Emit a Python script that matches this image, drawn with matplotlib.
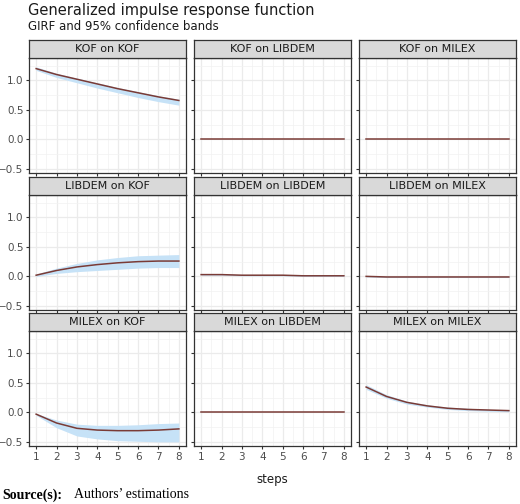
import matplotlib
matplotlib.use("Agg")
import matplotlib.pyplot as plt
import numpy as np

steps = [1, 2, 3, 4, 5, 6, 7, 8]
titles = ["KOF on KOF", "KOF on LIBDEM", "KOF on MILEX",
          "LIBDEM on KOF", "LIBDEM on LIBDEM", "LIBDEM on MILEX",
          "MILEX on KOF", "MILEX on LIBDEM", "MILEX on MILEX"]
irf = [
    [1.20, 1.10, 1.02, 0.94, 0.86, 0.79, 0.72, 0.66],
    [0, 0, 0, 0, 0, 0, 0, 0],
    [0, 0, 0, 0, 0, 0, 0, 0],
    [0.02, 0.10, 0.16, 0.20, 0.23, 0.25, 0.26, 0.26],
    [0.03, 0.03, 0.02, 0.02, 0.02, 0.01, 0.01, 0.01],
    [0.00, -0.01, -0.01, -0.01, -0.01, -0.01, -0.01, -0.01],
    [-0.03, -0.18, -0.27, -0.30, -0.31, -0.31, -0.30, -0.28],
    [0, 0, 0, 0, 0, 0, 0, 0],
    [0.43, 0.27, 0.17, 0.11, 0.07, 0.05, 0.04, 0.03],
]
lower = [
    [1.17, 1.05, 0.96, 0.87, 0.79, 0.71, 0.64, 0.58],
    [0, 0, 0, 0, 0, 0, 0, 0],
    [0, 0, 0, 0, 0, 0, 0, 0],
    [0.00, 0.05, 0.08, 0.10, 0.12, 0.14, 0.15, 0.15],
    [0.02, 0.02, 0.01, 0.01, 0.01, 0.00, 0.00, 0.00],
    [-0.01, -0.02, -0.02, -0.02, -0.02, -0.02, -0.02, -0.02],
    [-0.05, -0.26, -0.40, -0.45, -0.48, -0.49, -0.50, -0.50],
    [0, 0, 0, 0, 0, 0, 0, 0],
    [0.39, 0.24, 0.14, 0.09, 0.05, 0.03, 0.02, 0.01],
]
upper = [
    [1.23, 1.12, 1.04, 0.96, 0.88, 0.81, 0.74, 0.68],
    [0, 0, 0, 0, 0, 0, 0, 0],
    [0, 0, 0, 0, 0, 0, 0, 0],
    [0.04, 0.14, 0.22, 0.28, 0.32, 0.35, 0.36, 0.37],
    [0.04, 0.04, 0.03, 0.03, 0.03, 0.02, 0.02, 0.02],
    [0.01, 0.00, 0.00, 0.00, 0.00, 0.00, 0.00, 0.00],
    [-0.02, -0.13, -0.20, -0.22, -0.22, -0.21, -0.19, -0.18],
    [0, 0, 0, 0, 0, 0, 0, 0],
    [0.47, 0.30, 0.19, 0.13, 0.09, 0.07, 0.05, 0.04],
]

fig = plt.figure(figsize=(5.2, 5.04), dpi=100)
W, H = 520, 504
lefts = [29, 194, 359]
pw = 157
tops = [58, 195, 331]
ph = 115
sh = 18
for i in range(9):
    r, c = divmod(i, 3)
    x0, y0 = lefts[c], tops[r]
    ax = fig.add_axes([x0 / W, 1 - (y0 + ph) / H, pw / W, ph / H])
    ax.set_facecolor("white")
    ax.fill_between(steps, lower[i], upper[i], color="#c6e2f7", lw=0)
    ax.plot(steps, irf[i], color="#7a3b36", lw=1.1)
    ax.set_xlim(0.65, 8.35)
    ax.set_ylim(-0.57, 1.38)
    ax.set_xticks(steps)
    ax.set_yticks([-0.5, 0, 0.5, 1.0])
    ax.set_xticks(np.arange(1.5, 8, 1), minor=True)
    ax.set_yticks([-0.25, 0.25, 0.75, 1.25], minor=True)
    ax.grid(True, which="major", color="#ebebeb", lw=0.9)
    ax.grid(True, which="minor", color="#f2f2f2", lw=0.5)
    ax.set_axisbelow(True)
    for s in ax.spines.values():
        s.set_color("#333333"); s.set_linewidth(0.9)
    ax.tick_params(which="minor", length=0)
    ax.tick_params(which="major", length=2.5, color="#333333", labelsize=7.5, labelcolor="#4d4d4d", pad=1.5)
    if c == 0:
        ax.set_yticklabels(["\u22120.5", "0.0", "0.5", "1.0"])
    else:
        ax.set_yticklabels([])
    if r < 2:
        ax.set_xticklabels([])
    sax = fig.add_axes([x0 / W, 1 - (y0) / H, pw / W, sh / H])
    sax.set_facecolor("#d9d9d9")
    sax.set_xticks([]); sax.set_yticks([])
    for s in sax.spines.values():
        s.set_color("#333333"); s.set_linewidth(0.9)
    sax.text(0.5, 0.5, titles[i], ha="center", va="center", fontsize=8, color="#1a1a1a")

fig.text(28 / W, 1 - 10 / H, "Generalized impulse response function", fontsize=10.5, va="center", color="#1a1a1a")
fig.text(28 / W, 1 - 27 / H, "GIRF and 95% confidence bands", fontsize=8.5, va="center", color="#1a1a1a")
fig.text((28 + 516) / 2 / W, 1 - 479 / H, "steps", fontsize=8.5, ha="center", va="center", color="#1a1a1a")
t = fig.text(2 / W, 1 - 495 / H, "Source(s):", fontsize=10, family="Liberation Serif",
             fontweight="bold", va="center")
fig.text(74 / W, 1 - 495 / H, "Authors\u2019 estimations", fontsize=10, family="Liberation Serif", va="center")
fig.savefig("out.png", dpi=100)
